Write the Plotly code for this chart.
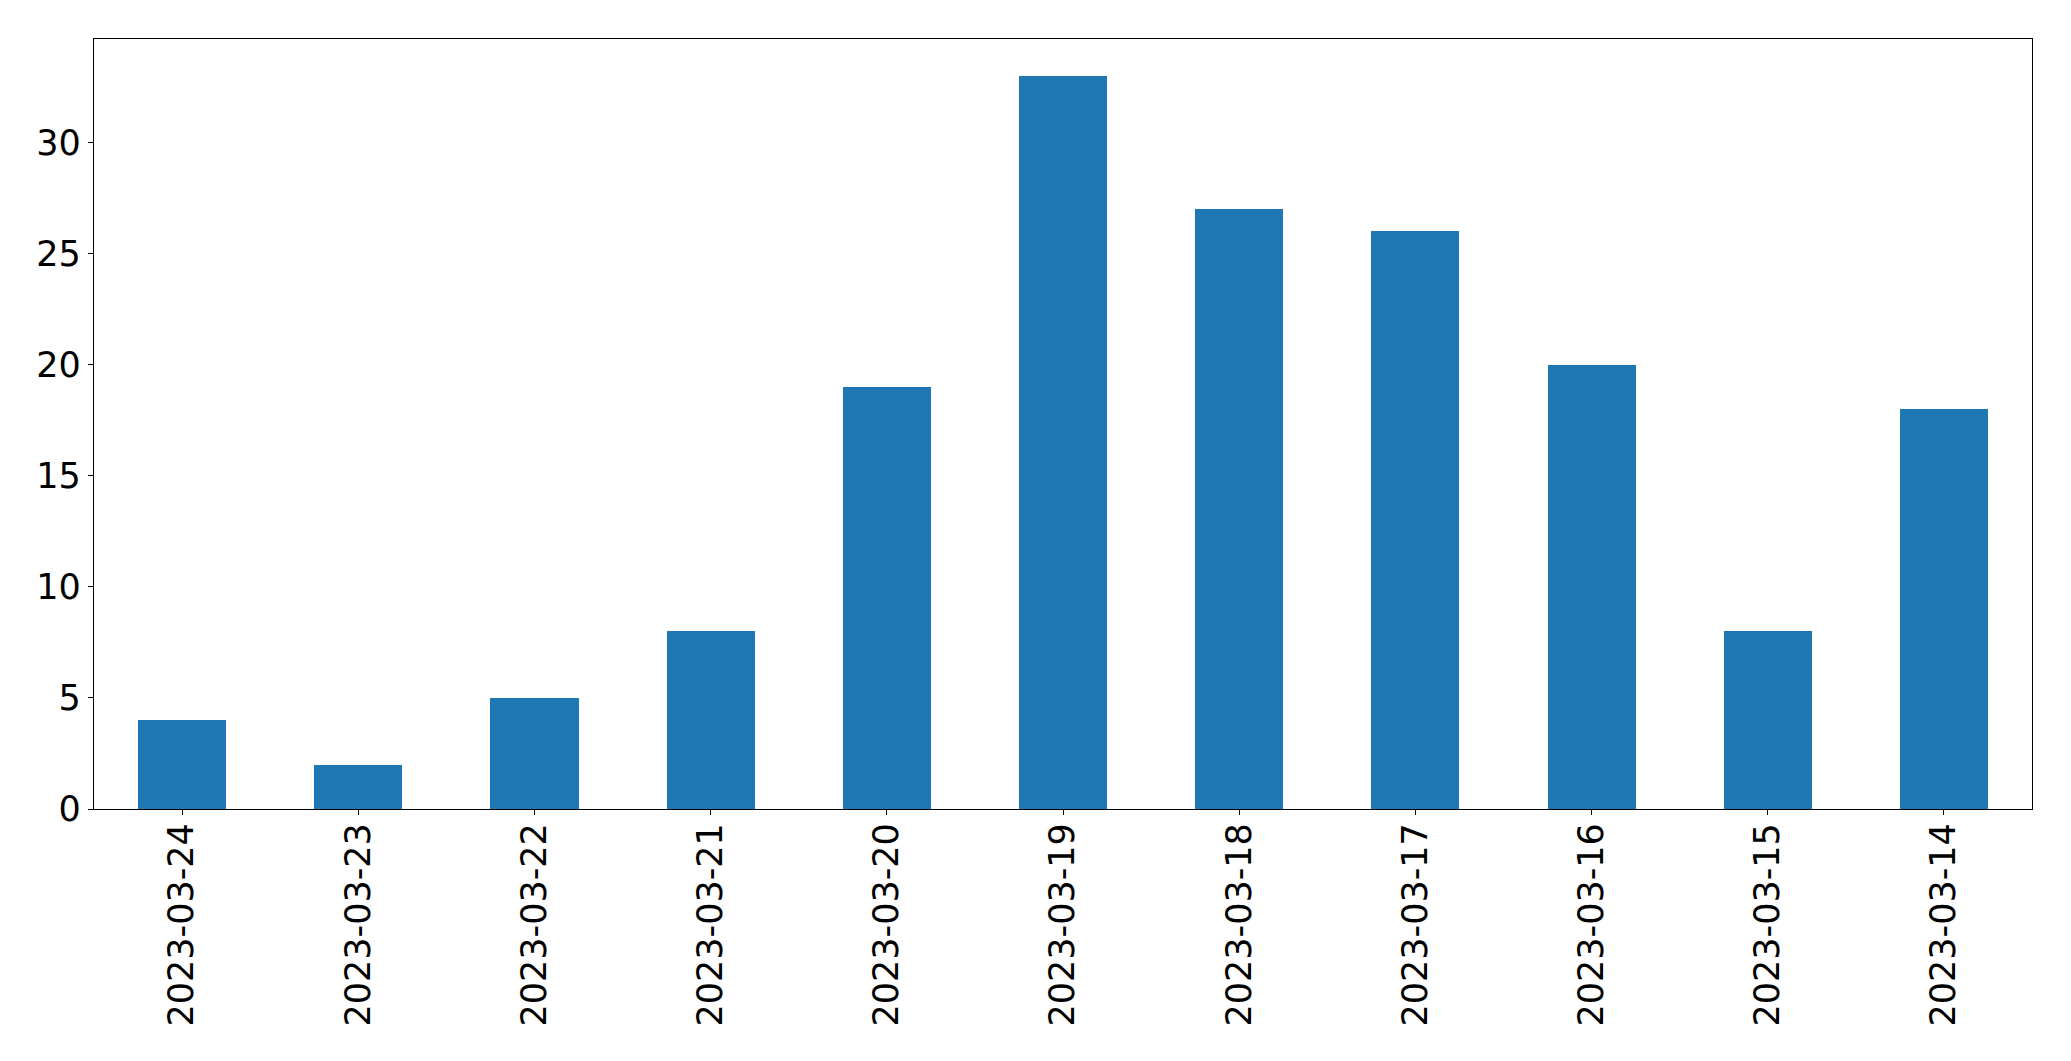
import plotly.graph_objects as go

dates = ["2023-03-24", "2023-03-23", "2023-03-22", "2023-03-21", "2023-03-20",
         "2023-03-19", "2023-03-18", "2023-03-17", "2023-03-16", "2023-03-15",
         "2023-03-14"]
counts = [4, 2, 5, 8, 19, 33, 27, 26, 20, 8, 18]
yticks = [0, 5, 10, 15, 20, 25, 30]

fig = go.Figure(go.Bar(x=list(range(len(dates))), y=counts, width=0.5,
                       marker=dict(color="#1f77b4", line=dict(width=0))))

# page body has an 8px margin; figure sized to fit within the window
fig.update_layout(
    width=2055, height=1045,
    margin=dict(l=86, r=31, t=31, b=244, pad=0),
    paper_bgcolor="white", plot_bgcolor="white",
    font=dict(family="DejaVu Sans", size=35, color="black"),
    showlegend=False,
    bargap=0,
)
fig.update_xaxes(
    range=[-0.5, len(dates) - 0.5],
    tickmode="array", tickvals=list(range(len(dates))), ticktext=dates,
    tickangle=-90, ticklabelstandoff=-6,
    showline=True, linecolor="black", linewidth=1.3, mirror=True,
    ticks="outside", ticklen=5, tickwidth=1.3, tickcolor="black",
    showgrid=False, zeroline=False,
)
fig.update_yaxes(
    range=[0, 34.65],
    tickmode="array", tickvals=yticks, ticktext=[str(v) for v in yticks],
    showline=True, linecolor="black", linewidth=1.3, mirror=True,
    ticks="outside", ticklen=5, tickwidth=1.3, tickcolor="black",
    showgrid=False, zeroline=False,
)

fig.write_html("out.html")
